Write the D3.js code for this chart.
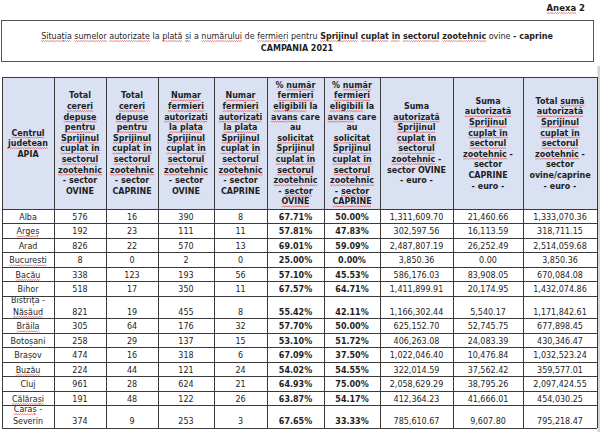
<!DOCTYPE html>
<html><head><meta charset="utf-8">
<script src="https://cdn.jsdelivr.net/npm/d3@7"></script>
<style>
body{margin:0;background:#fff;}
svg{display:block;font-family:"DejaVu Sans",sans-serif;}
</style></head>
<body><svg id="c" width="600" height="437"></svg>
<script>
// ---------- DATA ----------
const judete = ["Alba","~Argeș~","Arad","~Bucuresti~","~Bacău~","Bihor","Bistrița -\n~Năsăud~","~Brăila~","Botoșani","Brașov","~Buzău~","Cluj","~Călărași~","~Caraș~ -\nSeverin"];
const cereriOvine   = [576,192,826,8,338,518,821,305,258,474,224,961,191,374];
const cereriCaprine = [16,23,22,0,123,17,19,64,29,16,44,28,48,9];
const fermOvine     = [390,111,570,2,193,350,455,176,137,318,121,624,122,253];
const fermCaprine   = [8,11,13,0,56,11,8,32,15,6,24,21,26,3];
const pctOvine      = [67.71,57.81,69.01,25.00,57.10,67.57,55.42,57.70,53.10,67.09,54.02,64.93,63.87,67.65];
const pctCaprine    = [50.00,47.83,59.09,0.00,45.53,64.71,42.11,50.00,51.72,37.50,54.55,75.00,54.17,33.33];
const sumaOvine     = [1311609.70,302597.56,2487807.19,3850.36,586176.03,1411899.91,1166302.44,625152.70,406263.08,1022046.40,322014.59,2058629.29,412364.23,785610.67];
const sumaCaprine   = [21460.66,16113.59,26252.49,0.00,83908.05,20174.95,5540.17,52745.75,24083.39,10476.84,37562.42,38795.26,41666.01,9607.80];
const sumaTotal     = [1333070.36,318711.15,2514059.68,3850.36,670084.08,1432074.86,1171842.61,677898.45,430346.47,1032523.24,359577.01,2097424.55,454030.25,795218.47];

const headers = [
  ["~Centrul~","~judetean~","APIA"],
  ["Total","~cereri~","~depuse~","~pentru~","~Sprijinul~","~cuplat în~","~sectorul~","~zootehnic~","- sector","OVINE"],
  ["Total","~cereri~","~depuse~","~pentru~","~Sprijinul~","~cuplat în~","~sectorul~","~zootehnic~","- sector","CAPRINE"],
  ["~Numar~","~fermieri~","~autorizati~","~la plata~","~Sprijinul~","~cuplat în~","~sectorul~","~zootehnic~","- sector","OVINE"],
  ["~Numar~","~fermieri~","~autorizati~","~la plata~","~Sprijinul~","~cuplat în~","~sectorul~","~zootehnic~","- sector","CAPRINE"],
  ["% ~număr~","~fermieri~","~eligibili~ la","~avans~ care","au","~solicitat~","~Sprijinul~","~cuplat în~","~sectorul~","~zootehnic~","- ~sector~","~OVINE~"],
  ["% ~număr~","~fermieri~","~eligibili~ la","~avans~ care","au","~solicitat~","~Sprijinul~","~cuplat în~","~sectorul~","~zootehnic~","- ~sector~","~CAPRINE~"],
  ["Suma","~autorizată~","~Sprijinul~","~cuplat în~","~sectorul~","~zootehnic~ -","sector OVINE","- euro -"],
  ["Suma","~autorizată~","~Sprijinul~","~cuplat în~","~sectorul~","~zootehnic~ -","sector","CAPRINE","- euro -"],
  ["Total ~sumă~","~autorizată~","~Sprijinul~","~cuplat în~","~sectorul~","~zootehnic~ -","sector","ovine/caprine","- euro -"]
];
const titleLines = [
  "~Situația~ ~sumelor~ ~autorizate~ la ~plată~ ~și~ a ~numărului~ de ~fermieri~ pentru *~Sprijinul~ ~cuplat~ ~în~ ~sectorul~ ~zootehnic~* ovine *- caprine*",
  "*CAMPANIA 2021*"
];
const annexLabel = "*~Anexa~ 2*";

// ---------- LAYOUT ----------
const colWidths = [52,52,52,56,53,57,56,73,70,74];
const tableLeft = 2, tableRight = 597;
const headTop = 77, headBottom = 209, bodyBottom = 428;
const headerBg = "#d9e1f2", lineColor = "#3a3a3a", textColor = "#1e1e1e";

const svg = d3.select("#c");
const fmtMoney = d3.format(",.2f");
const fmtPct = v => d3.format(".2f")(v) + "%";

const cum = [0]; colWidths.forEach(w => cum.push(cum[cum.length-1] + w));
const x = d3.scaleLinear().domain([0, cum[cum.length-1]]).range([tableLeft, tableRight]);
const colX = cum.map(c => x(c));

const lineCounts = judete.map(s => s.split("\n").length);
const units = lineCounts.map(n => 1 + 0.55 * (n - 1));
const ucum = [0]; units.forEach(u => ucum.push(ucum[ucum.length-1] + u));
const y = d3.scaleLinear().domain([0, ucum[ucum.length-1]]).range([headBottom, bodyBottom]);
const rowY = ucum.map(u => y(u));

function parse(str){
  const segs=[]; let cur="", u=false, b=false;
  for(const ch of str){
    if(ch==="~"||ch==="*"){ if(cur) segs.push({t:cur,u,b}); cur=""; if(ch==="~") u=!u; else b=!b; }
    else cur+=ch;
  }
  if(cur) segs.push({t:cur,u,b});
  return segs;
}
function wave(x0,x1,yy){
  let p=`M${x0.toFixed(2)},${yy}`; let k=0;
  for(let xx=x0+1.1; xx<=x1; xx+=1.1){ k++; p+=`L${xx.toFixed(2)},${(yy+(k%2?0.9:0)).toFixed(2)}`; }
  return p;
}
const pending = [];
function addText(g, str, tx, ty, opts){
  const t = g.append("text").attr("x",tx).attr("y",ty)
    .attr("text-anchor", opts.anchor || "middle")
    .attr("font-size", opts.size).attr("fill", textColor)
    .attr("font-weight", opts.bold ? "bold" : "normal");
  const segs = parse(str);
  segs.forEach(s=>{
    const ts = t.append("tspan").text(s.t);
    if(s.b) ts.attr("font-weight","bold");
    if(s.u) ts.classed("ul", true);
  });
  pending.push({t, ty});
  return t;
}

// ---------- TITLE ----------
const gTitle = svg.append("g");
addText(gTitle, annexLabel, 585, 11, {size:8.5, anchor:"end"});
gTitle.append("rect").attr("x",1.5).attr("y",20.5).attr("width",592).attr("height",41)
  .attr("fill","#fff").attr("stroke","#555").attr("stroke-width",1);
titleLines.forEach((l,i)=> addText(gTitle, l, 297, 39 + i*12, {size:8}));

svg.append("rect").attr("x",597.5).attr("y",66).attr("width",2.5).attr("height",366).attr("fill","#d4d4d4");

// ---------- HEADER ----------
const gHead = svg.append("g");
gHead.append("rect").attr("x",tableLeft).attr("y",headTop).attr("width",tableRight-tableLeft).attr("height",headBottom-headTop).attr("fill",headerBg);
const lh = 10.6, hMid = (headTop+headBottom)/2;
headers.forEach((lines,c)=>{
  const cx = (colX[c]+colX[c+1])/2;
  const y0 = hMid - (lines.length-1)*lh/2 + 3.1;
  lines.forEach((l,i)=> addText(gHead, l, cx, y0 + i*lh, {size:8, bold:true}));
});

// ---------- BODY ----------
const gBody = svg.append("g");
const columns = [
  {vals: judete, f: v=>v},
  {vals: cereriOvine, f: String},
  {vals: cereriCaprine, f: String},
  {vals: fermOvine, f: String},
  {vals: fermCaprine, f: String},
  {vals: pctOvine, f: fmtPct, bold:true},
  {vals: pctCaprine, f: fmtPct, bold:true},
  {vals: sumaOvine, f: fmtMoney},
  {vals: sumaCaprine, f: fmtMoney},
  {vals: sumaTotal, f: fmtMoney}
];
columns.forEach((col,c)=>{
  const cx = (colX[c]+colX[c+1])/2;
  col.vals.forEach((v,r)=>{
    const bottom = rowY[r+1];
    const lines = String(col.f(v)).split("\n");
    lines.forEach((l,i)=>{
      const yy = bottom - 3.6 - (lines.length-1-i)*12.2;
      addText(gBody, l, cx, yy, {size:8, bold:!!col.bold});
    });
  });
});

// ---------- GRID ----------
const gGrid = svg.append("g").attr("stroke",lineColor).attr("stroke-width",1).attr("shape-rendering","crispEdges");
gGrid.selectAll("line.v").data(colX).join("line")
  .attr("x1",d=>d).attr("x2",d=>d).attr("y1",headTop).attr("y2",bodyBottom);
gGrid.append("line").attr("x1",tableLeft).attr("x2",tableRight).attr("y1",headTop).attr("y2",headTop);
gGrid.selectAll("line.h").data(rowY).join("line")
  .attr("x1",tableLeft).attr("x2",tableRight).attr("y1",d=>d).attr("y2",d=>d);

// ---------- spell-check squiggles (drawn from measured tspans) ----------
const ulLayer = svg.append("g").attr("class","underlines");
function drawUnderlines(){
  ulLayer.selectAll("*").remove();
  pending.forEach(({t, ty})=>{
    t.selectAll("tspan.ul").each(function(){
      let bb;
      try { bb = this.getBBox(); } catch(e){ bb = null; }
      if(!bb || !(bb.width>0)) return;
      ulLayer.append("path").attr("d", wave(bb.x, bb.x+bb.width, ty+1.6))
        .attr("fill","none").attr("stroke","#e0403a").attr("stroke-width",0.8).attr("opacity",0.85);
    });
  });
}
drawUnderlines();
if(document.fonts && document.fonts.ready) document.fonts.ready.then(drawUnderlines);
</script>
</body></html>
